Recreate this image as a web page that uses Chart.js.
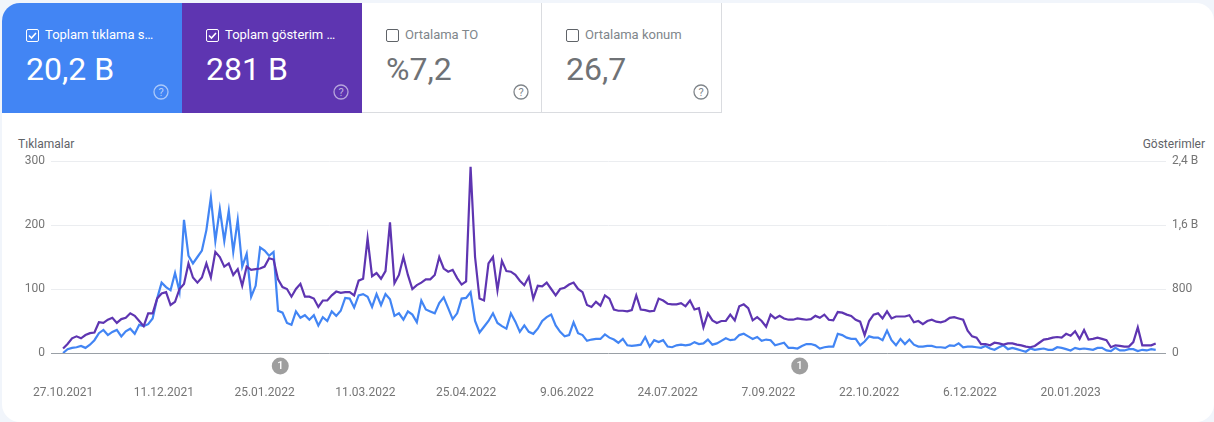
<!DOCTYPE html>
<html lang="tr">
<head>
<meta charset="utf-8">
<title>Performans</title>
<script src="https://cdn.jsdelivr.net/npm/chart.js@4"></script>
<style>
  html, body { margin: 0; padding: 0; background: #f1f5fb; font-family: Roboto, sans-serif; }
  body { width: 1214px; height: 422px; overflow: hidden; position: relative; }
  #card { position: absolute; left: 2px; top: 3px; width: 1212px; height: 419px; background: #fff; border-radius: 18px; overflow: hidden; }
  .tile { position: absolute; top: 0; width: 180px; height: 110px; box-sizing: content-box; }
  .tile.blue { left: 0; background: #4285f4; color: #fff; }
  .tile.purple { left: 180px; background: #5e35b1; color: #fff; }
  .tile.off { height: 109px; color: #5f6368; border-bottom: 1px solid #dadce0; border-right: 1px solid #dadce0; width: 179px; }
  .box { position: absolute; left: 24px; top: 26px; width: 11px; height: 11px; border: 1px solid currentColor; border-radius: 2px; }
  .tile.blue .box svg, .tile.purple .box svg { position: absolute; left: 0; top: 0; }
  .label { position: absolute; left: 43px; top: 24px; font-size: 13px; line-height: 16px; font-weight: 400; white-space: nowrap; }
  .tile.off .label { color: #80868b; }
  .value { position: absolute; left: 24px; top: 47px; font-size: 32px; line-height: 38px; white-space: nowrap; }
  .tile.off .value { color: #6f7276; }
  .help { position: absolute; left: 151px; top: 81px; }
  .axis-title { position: absolute; top: 134px; font-size: 12px; line-height: 14px; color: #5f6368; }
  #chartBox { position: absolute; left: 0; top: 130px; width: 1214px; height: 280px; }
</style>
</head>
<body>
<div id="card">
  <div class="tile blue">
    <div class="box"><svg width="11" height="11" viewBox="0 0 11 11"><path d="M2 5.5 L4.5 8 L9 3" fill="none" stroke="#fff" stroke-width="1.6"/></svg></div>
    <div class="label">Toplam tıklama s…</div>
    <div class="value">20,2 B</div>
    <svg class="help" width="16" height="16" viewBox="0 0 16 16"><circle cx="8" cy="8" r="7" fill="none" stroke="#fff" stroke-opacity=".55" stroke-width="1.3"/><text x="8" y="12" text-anchor="middle" font-size="11" font-family="Roboto" fill="#fff" fill-opacity=".6">?</text></svg>
  </div>
  <div class="tile purple">
    <div class="box"><svg width="11" height="11" viewBox="0 0 11 11"><path d="M2 5.5 L4.5 8 L9 3" fill="none" stroke="#fff" stroke-width="1.6"/></svg></div>
    <div class="label">Toplam gösterim …</div>
    <div class="value">281 B</div>
    <svg class="help" width="16" height="16" viewBox="0 0 16 16"><circle cx="8" cy="8" r="7" fill="none" stroke="#fff" stroke-opacity=".55" stroke-width="1.3"/><text x="8" y="12" text-anchor="middle" font-size="11" font-family="Roboto" fill="#fff" fill-opacity=".6">?</text></svg>
  </div>
  <div class="tile off" style="left:360px">
    <div class="box"></div>
    <div class="label">Ortalama TO</div>
    <div class="value">%7,2</div>
    <svg class="help" width="16" height="16" viewBox="0 0 16 16"><circle cx="8" cy="8" r="7" fill="none" stroke="#80868b" stroke-width="1.3"/><text x="8" y="12" text-anchor="middle" font-size="11" font-family="Roboto" fill="#80868b">?</text></svg>
  </div>
  <div class="tile off" style="left:540px">
    <div class="box"></div>
    <div class="label">Ortalama konum</div>
    <div class="value">26,7</div>
    <svg class="help" width="16" height="16" viewBox="0 0 16 16"><circle cx="8" cy="8" r="7" fill="none" stroke="#80868b" stroke-width="1.3"/><text x="8" y="12" text-anchor="middle" font-size="11" font-family="Roboto" fill="#80868b">?</text></svg>
  </div>
  <div class="axis-title" style="left:16px">Tıklamalar</div>
  <div class="axis-title" style="right:9px">Gösterimler</div>
</div>
<div id="chartBox"><canvas id="perfChart"></canvas></div>

<script>
// Renkler
const BLUE = '#4285f4';
const PURPLE = '#5e35b1';

// Eksen etiketleri (gün = 27.10.2021'den itibaren)
const tickDays = [0, 45, 90, 135, 180, 225, 270, 315, 360, 405, 450];
const tickDates = ['27.10.2021', '11.12.2021', '25.01.2022', '11.03.2022', '25.04.2022', '9.06.2022',
  '24.07.2022', '7.09.2022', '22.10.2022', '6.12.2022', '20.01.2023'];
const clickTicks = { 0: '0', 100: '100', 200: '200', 300: '300' };
const viewTicks = { 0: '0', 800: '800', 1600: '1,6 B', 2400: '2,4 B' };

// Not işaretleri (1)
const noteDays = [97, 329];

// Iki günde bir
const clicks = [
  0, 6, 8, 9, 11, 8, 13, 20, 31, 36,
  28, 33, 36, 26, 34, 38, 30, 44, 42, 45,
  54, 85, 110, 103, 98, 125, 96, 208, 152, 140,
  150, 160, 192, 243, 175, 225, 175, 222, 158, 208,
  135, 155, 88, 105, 165, 160, 152, 158, 66, 63,
  47, 44, 65, 55, 59, 52, 59, 43, 56, 50,
  65, 58, 66, 86, 85, 71, 90, 92, 88, 72,
  92, 75, 92, 84, 58, 62, 52, 65, 60, 48,
  82, 68, 65, 62, 78, 87, 70, 53, 62, 85,
  86, 95, 50, 32, 41, 50, 62, 47, 42, 38,
  62, 49, 33, 43, 33, 30, 38, 50, 56, 60,
  43, 33, 26, 28, 48, 31, 28, 19, 21, 22,
  22, 29, 24, 21, 16, 22, 12, 11, 12, 13,
  25, 10, 20, 17, 20, 10, 9, 12, 13, 12,
  13, 17, 14, 15, 21, 13, 15, 19, 23, 20,
  21, 28, 30, 26, 22, 25, 19, 21, 20, 12,
  14, 16, 8, 8, 7, 11, 14, 14, 12, 7,
  9, 10, 10, 30, 28, 24, 22, 22, 12, 18,
  26, 24, 24, 20, 35, 20, 12, 22, 14, 21,
  13, 10, 10, 11, 11, 9, 9, 8, 12, 11,
  15, 9, 10, 10, 9, 8, 11, 7, 5, 9,
  12, 6, 8, 6, 4, 2, 7, 5, 6, 7,
  5, 5, 9, 8, 6, 4, 8, 6, 7, 6,
  5, 8, 8, 4, 3, 8, 4, 4, 6, 6,
  3, 5, 4, 6, 5
];
const views = [
  56, 112, 184, 208, 184, 224, 248, 256, 384, 376,
  416, 440, 376, 424, 440, 496, 464, 400, 336, 496,
  496, 680, 744, 760, 600, 640, 800, 864, 1120, 944,
  880, 944, 1120, 944, 1264, 1200, 1080, 1120, 976, 1048,
  840, 1080, 1040, 1048, 1056, 1080, 1184, 1168, 920, 824,
  800, 704, 800, 864, 704, 704, 680, 576, 656, 656,
  720, 768, 752, 760, 760, 720, 904, 928, 1432, 960,
  1000, 928, 1024, 1632, 872, 976, 1200, 976, 800, 848,
  880, 920, 920, 976, 1200, 1056, 1016, 1040, 936, 856,
  896, 2328, 1200, 680, 656, 1120, 1200, 784, 1152, 1024,
  1016, 976, 904, 848, 952, 680, 840, 832, 880, 800,
  720, 800, 816, 856, 880, 800, 760, 600, 576, 640,
  592, 720, 680, 544, 528, 528, 520, 536, 720, 544,
  536, 520, 528, 680, 656, 616, 608, 608, 624, 584,
  656, 544, 560, 320, 496, 408, 376, 400, 400, 480,
  408, 584, 608, 560, 408, 448, 400, 328, 480, 432,
  464, 432, 416, 416, 432, 424, 416, 424, 464, 440,
  480, 416, 408, 512, 504, 480, 464, 416, 392, 224,
  400, 480, 496, 432, 520, 432, 456, 456, 456, 472,
  384, 400, 360, 400, 416, 392, 384, 400, 440, 448,
  432, 416, 280, 208, 192, 112, 112, 96, 128, 120,
  104, 120, 120, 104, 96, 80, 72, 88, 128, 168,
  176, 192, 200, 192, 240, 216, 272, 176, 288, 168,
  176, 192, 176, 160, 72, 96, 88, 80, 80, 136,
  320, 96, 96, 96, 120
];

const toPoints = values => values.map((v, i) => ({ x: i * 2, y: v }));

// Eksen altındaki gri "1" işaretleri
const notePlugin = {
  id: 'notes',
  afterDraw(chart) {
    const { ctx, scales } = chart;
    ctx.save();
    noteDays.forEach(day => {
      const x = scales.x.getPixelForValue(day);
      const y = scales.y.bottom + 13;
      ctx.beginPath();
      ctx.arc(x, y, 8.5, 0, Math.PI * 2);
      ctx.fillStyle = '#9e9e9e';
      ctx.fill();
      ctx.fillStyle = '#fff';
      ctx.font = '500 11px Roboto';
      ctx.textAlign = 'center';
      ctx.textBaseline = 'middle';
      ctx.fillText('1', x, y + 0.5);
    });
    ctx.restore();
  }
};

const axisFont = { family: 'Roboto', size: 12 };
const axisColor = '#757575';

new Chart(document.getElementById('perfChart'), {
  type: 'line',
  data: {
    datasets: [
      { label: 'Gösterimler', data: toPoints(views), yAxisID: 'y2', borderColor: PURPLE, borderWidth: 2.2, pointRadius: 0, tension: 0 },
      { label: 'Tıklamalar', data: toPoints(clicks), yAxisID: 'y', borderColor: BLUE, borderWidth: 2.2, pointRadius: 0, tension: 0 }
    ]
  },
  options: {
    responsive: true,
    maintainAspectRatio: false,
    animation: false,
    layout: { padding: { top: 31 } },
    plugins: { legend: { display: false }, tooltip: { enabled: false } },
    scales: {
      x: {
        type: 'linear',
        min: -5.4,
        max: 492.6,
        grid: { display: false },
        border: { display: false },
        afterBuildTicks: axis => { axis.ticks = tickDays.map(v => ({ value: v })); },
        afterFit: axis => { axis.height = 57; },
        ticks: {
          autoSkip: false,
          maxRotation: 0,
          padding: 25,
          color: axisColor,
          font: axisFont,
          callback: value => tickDates[tickDays.indexOf(value)]
        }
      },
      y: {
        position: 'left',
        min: 0,
        max: 300,
        afterFit: axis => { axis.width = 51; },
        border: { display: false },
        grid: {
          drawTicks: false,
          color: ctx => (ctx.tick.value === 0 ? '#9aa0a6' : '#ebedf0')
        },
        ticks: {
          stepSize: 100,
          padding: 6,
          color: axisColor,
          font: axisFont,
          callback: value => clickTicks[value]
        }
      },
      y2: {
        position: 'right',
        min: 0,
        max: 2400,
        afterFit: axis => { axis.width = 48; },
        border: { display: false },
        grid: { display: false, drawTicks: false },
        ticks: {
          stepSize: 800,
          padding: 6,
          color: axisColor,
          font: axisFont,
          callback: value => viewTicks[value]
        }
      }
    }
  },
  plugins: [notePlugin]
});
</script>
</body>
</html>
